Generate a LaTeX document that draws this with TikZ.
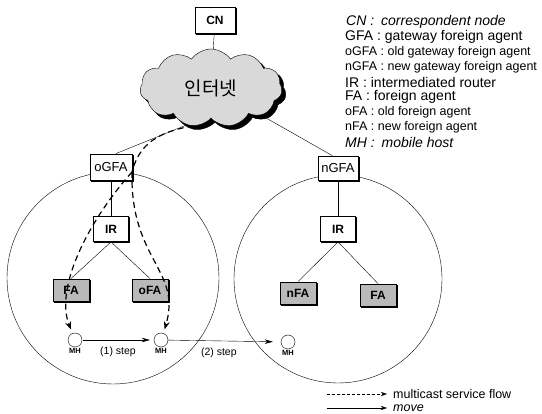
\documentclass[tikz,border=0pt]{standalone}
\usepackage{fontspec}
\setmainfont{Liberation Sans}
\newfontfamily\kor{Noto Sans CJK KR}
\usetikzlibrary{arrows.meta, positioning, shapes.symbols}

\tikzset{
  netcloud/.style={cloud, cloud puffs=11, cloud puff arc=110, aspect=1.8, draw,
    minimum width=142pt, minimum height=78pt},
  box/.style={draw, fill=white, thick, minimum width=40pt, minimum height=25pt, inner sep=1pt,
    font=\fontsize{13}{13}\selectfont,
    append after command={\pgfextra{\draw[line width=1.3pt]
      ([xshift=1pt,yshift=-0.9pt]\tikzlastnode.south west) -- ([xshift=0.9pt,yshift=-0.9pt]\tikzlastnode.south east)
      -- ([xshift=0.9pt,yshift=-1pt]\tikzlastnode.north east);}}},
  fabox/.style={box, fill=gray!55, minimum width=36pt, minimum height=22pt,
    font=\fontsize{12}{12}\selectfont\bfseries},
  mhost/.style={draw, circle, minimum size=14pt, inner sep=0pt, fill=white},
  mhlab/.style={below=1pt, inner sep=0pt, font=\fontsize{7.5}{8}\selectfont\bfseries},
  flow/.style={line width=1.2pt, dash pattern=on 6pt off 4pt, -{Stealth[length=8pt,width=6pt]}},
  move/.style={-{Stealth[length=8pt,width=4.5pt]}},
  keytxt/.style={anchor=west, inner sep=0pt, font=\fontsize{14}{14}\selectfont},
  keysmall/.style={keytxt, font=\fontsize{12.5}{13}\selectfont},
}

\begin{document}
\begin{tikzpicture}[x=1pt, y=-1pt]
  \useasboundingbox (0,0) rectangle (542,414);

  % domains
  \node[draw, circle, minimum size=212pt] (domold) at (113,278) {};
  \node[draw, circle, minimum size=208pt] (domnew) at (338,279) {};

  % internet
  \node[netcloud, fill=black] (netshade) at (215,92) {};
  \node[netcloud, fill=gray!30] (net) at (211,88) {\kor\fontsize{19}{19}\selectfont 인터넷};

  \node[box, font=\fontsize{12}{12}\selectfont\bfseries, minimum height=26pt] (cn) at (215,20) {CN};
  \node[box, minimum width=42pt, minimum height=26pt] (ogfa) at (111,167) {oGFA};
  \node[box, minimum height=24pt] (ngfa) at (338,168) {nGFA};
  \node[box, minimum width=35pt, font=\fontsize{12}{12}\selectfont\bfseries] (irold) at (111,229) {IR};
  \node[box, minimum width=35pt, font=\fontsize{12}{12}\selectfont\bfseries] (irnew) at (338,229) {IR};
  \node[fabox] (fa) at (71,290) {FA};
  \node[fabox] (ofa) at (150,290) {oFA};
  \node[fabox] (nfa) at (298,293) {nFA};
  \node[fabox] (fanew) at (378,295) {FA};

  \node[mhost] (mh1) at (75,340) {};
  \node[mhost] (mh2) at (161,340) {};
  \node[mhost] (mh3) at (288,342) {};
  \node[mhlab] at (mh1.south) {MH};
  \node[mhlab] at (mh2.south) {MH};
  \node[mhlab] at (mh3.south) {MH};

  % links
  \draw (cn) -- (net);
  \draw (net.237) -- (ogfa.70);
  \draw (netshade.333) -- (ngfa.115);
  \draw (ogfa) -- (irold);
  \draw (ngfa) -- (irnew);
  \draw (irold.south) -- (fa.north);
  \draw (irold.south) -- (ofa.north);
  \draw (irnew.south) -- (nfa.north);
  \draw (irnew.south) -- (fanew.north);

  % multicast flow
  \coordinate (split) at (132,172);
  \draw[flow, -] (net.245) .. controls (150,133) and (138,150) .. (split);
  \draw[flow, shorten >=4pt] (split) .. controls (85,225) and (55,290) .. (mh1.110);
  \draw[flow, shorten >=4pt] (split) .. controls (130,260) and (182,270) .. (mh2.70);

  % moves
  \draw[move, shorten <=1pt, shorten >=4pt] (mh1) -- node[below=3pt, font=\fontsize{10.5}{11}\selectfont] {(1) step} (mh2);
  \draw[move, shorten >=8pt] (mh2) -- node[below=3pt, pos=0.45, font=\fontsize{10.5}{11}\selectfont] {(2) step} (mh3);

  % key
  \node[keytxt, font=\fontsize{14}{14}\selectfont\itshape] (key1) at (346,22) {CN :\enspace correspondent node};
  \node[keytxt] (key2) at (345,37) {GFA : gateway foreign agent};
  \node[keysmall] (key3) at (345,52) {oGFA : old gateway foreign agent};
  \node[keysmall] (key4) at (345,67) {nGFA : new gateway foreign agent};
  \node[keytxt] (key5) at (345,82) {IR : intermediated router};
  \node[keytxt] (key6) at (345,97) {FA : foreign agent};
  \node[keysmall] (key7) at (345,112) {oFA : old foreign agent};
  \node[keysmall] (key8) at (345,127) {nFA : new foreign agent};
  \node[keytxt, font=\fontsize{14}{14}\selectfont\itshape] (key9) at (345,142) {MH :\enspace mobile host};

  \coordinate (flowstart) at (327,394);
  \coordinate (movestart) at (327,408);
  \node[keytxt, font=\fontsize{12.5}{13}\selectfont] (flowtxt) at (393,394) {multicast service flow};
  \node[keytxt, font=\fontsize{12.5}{13}\selectfont\itshape] (movetxt) at (393,408) {move};
  \draw[thin, dash pattern=on 3pt off 2pt, -{Stealth[length=6pt,width=4pt]}, shorten >=6pt] (flowstart) -- (flowtxt.west);
  \draw[-{Stealth[length=6pt,width=4pt]}, shorten >=6pt] (movestart) -- (movetxt.west);
\end{tikzpicture}
\end{document}
